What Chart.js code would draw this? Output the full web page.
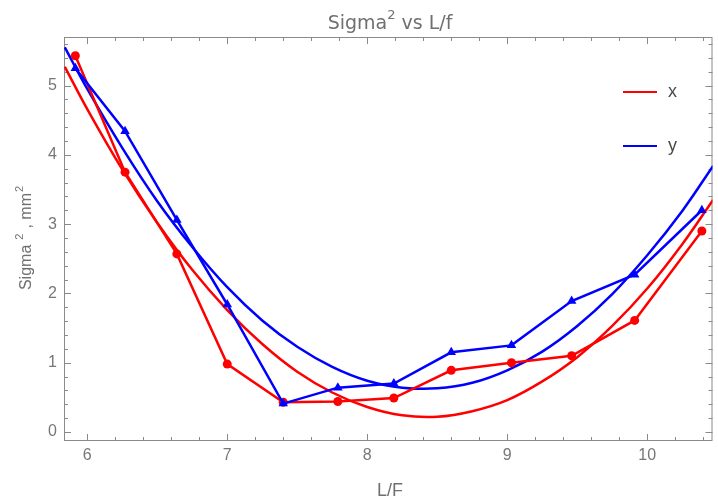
<!DOCTYPE html>
<html>
<head>
<meta charset="utf-8">
<script src="https://cdn.jsdelivr.net/npm/chart.js@4.4.0/dist/chart.umd.min.js"></script>
<style>
  html, body { margin: 0; padding: 0; background: #fff; }
  #wrap { position: relative; width: 718px; height: 500px; font-family: "Liberation Sans", Arial, sans-serif; }
  #chart { position: absolute; left: 0; top: 0; }
  .lbl { position: absolute; color: #707070; white-space: nowrap; text-align: center; }
  .lbl sup { vertical-align: baseline; position: relative; line-height: 0; }
  #title { left: 240px; width: 300px; top: 11px; font: 19px/22px "DejaVu Sans", sans-serif; }
  #title sup { font-size: 13px; top: -10px; }
  #xlabel { left: 340px; width: 100px; top: 480px; font-size: 18px; line-height: 20px; }
  #ylabel { left: -54px; width: 160px; top: 228px; font-size: 16px; line-height: 20px; transform: rotate(-90deg); }
  #ylabel sup { font-size: 11px; top: -8px; margin: 0 5px; }
  #ylabel sup.last { margin: 0 0 0 1px; }
  .key { position: absolute; left: 623px; width: 34px; height: 2.5px; }
  .keytxt { position: absolute; left: 668px; font-size: 18px; line-height: 20px; color: #4a4a4a; }
</style>
</head>
<body>
<div id="wrap">
  <canvas id="chart" width="718" height="500"></canvas>
  <div class="lbl" id="title">Sigma<sup>2</sup> vs L/f</div>
  <div class="lbl" id="xlabel">L/F</div>
  <div class="lbl" id="ylabel">Sigma<sup>2</sup>, mm<sup class="last">2</sup></div>
  <div class="key" style="top:90.75px; background:#ff0000;"></div>
  <div class="keytxt" style="top:81px;">x</div>
  <div class="key" style="top:144.75px; background:#0000ff;"></div>
  <div class="keytxt" style="top:135px;">y</div>
</div>
<script>
// measured points (L/F vs sigma^2)
const lf = [5.915, 6.27, 6.64, 7.0, 7.4, 7.79, 8.19, 8.6, 9.03, 9.46, 9.91, 10.39];
const sigmaX = [5.43, 3.75, 2.57, 0.98, 0.43, 0.44, 0.49, 0.89, 1.00, 1.10, 1.61, 2.90];
const sigmaY = [5.25, 4.34, 3.06, 1.84, 0.41, 0.64, 0.70, 1.15, 1.25, 1.89, 2.27, 3.20];

// fitted curves
const fitLf = [5.84, 6.0, 6.25, 6.5, 6.75, 7.0, 7.25, 7.5, 7.75, 8.0, 8.25, 8.5, 8.75, 9.0, 9.25, 9.5, 9.75, 10.0, 10.25, 10.47];
const fitX = [5.27, 4.66, 3.79, 3.02, 2.34, 1.76, 1.27, 0.87, 0.57, 0.36, 0.24, 0.22, 0.30, 0.46, 0.73, 1.08, 1.53, 2.07, 2.71, 3.35];
const fitY = [5.55, 4.95, 4.10, 3.33, 2.67, 2.09, 1.61, 1.23, 0.94, 0.74, 0.64, 0.63, 0.71, 0.89, 1.16, 1.53, 1.99, 2.55, 3.19, 3.84];

const xTicks = [6, 7, 8, 9, 10];
const yTicks = [0, 1, 2, 3, 4, 5];

const RED = '#ff0000';
const BLUE = '#0000ff';

const pts = (xs, ys) => xs.map((v, i) => ({ x: v, y: ys[i] }));

// Mathematica-like frame with inward ticks on all four sides
const frameTicks = {
  id: 'frameTicks',
  beforeDatasetsDraw(chart) {
    const { ctx, chartArea: a, scales: { x, y } } = chart;
    ctx.save();
    ctx.strokeStyle = '#8a8a8a';
    ctx.lineWidth = 1;
    ctx.beginPath();
    for (let i = 0; i <= 60; i++) {
      const v = i / 5;
      if (v < x.min || v > x.max) continue;
      const px = Math.round(x.getPixelForValue(v)) + 0.5;
      const len = i % 5 === 0 ? 7 : 4;
      ctx.moveTo(px, a.bottom); ctx.lineTo(px, a.bottom - len);
      ctx.moveTo(px, a.top); ctx.lineTo(px, a.top + len);
    }
    for (let i = -5; i <= 30; i++) {
      const v = i / 5;
      if (v < y.min || v > y.max) continue;
      const py = Math.round(y.getPixelForValue(v)) + 0.5;
      const len = i % 5 === 0 ? 7 : 4;
      ctx.moveTo(a.left, py); ctx.lineTo(a.left + len, py);
      ctx.moveTo(a.right, py); ctx.lineTo(a.right - len, py);
    }
    ctx.stroke();
    ctx.strokeRect(a.left + 0.5, a.top + 0.5, a.right - a.left - 1, a.bottom - a.top - 1);
    ctx.restore();
  },
};

new Chart(document.getElementById('chart'), {
  type: 'line',
  data: {
    datasets: [
      { label: 'y', data: pts(lf, sigmaY), borderColor: BLUE, backgroundColor: BLUE, borderWidth: 2.5,
        pointStyle: 'triangle', pointRadius: 5.5, pointBorderWidth: 0, tension: 0 },
      { label: 'x', data: pts(lf, sigmaX), borderColor: RED, backgroundColor: RED, borderWidth: 2.5,
        pointStyle: 'circle', pointRadius: 4.5, pointBorderWidth: 0, tension: 0 },
      { label: 'y fit', data: pts(fitLf, fitY), borderColor: BLUE, borderWidth: 2.5, pointRadius: 0, tension: 0.4 },
      { label: 'x fit', data: pts(fitLf, fitX), borderColor: RED, borderWidth: 2.5, pointRadius: 0, tension: 0.4 },
    ],
  },
  options: {
    responsive: false, animation: false, devicePixelRatio: 1,
    layout: { padding: { top: 37, right: 2, left: 0, bottom: 0 } },
    plugins: { legend: { display: false }, title: { display: false }, tooltip: { enabled: false } },
    scales: {
      x: {
        type: 'linear', min: 5.834, max: 10.466,
        afterBuildTicks: s => { s.ticks = xTicks.map(v => ({ value: v })); },
        afterFit: s => { s.height = 59; },
        ticks: { color: '#777', padding: 5, font: { family: 'Liberation Sans', size: 16 } },
        grid: { display: false, drawTicks: false },
        border: { display: false },
      },
      y: {
        type: 'linear', min: -0.13, max: 5.70,
        afterBuildTicks: s => { s.ticks = yTicks.map(v => ({ value: v })); },
        afterFit: s => { s.width = 64; },
        ticks: { color: '#777', padding: 7, font: { family: 'Liberation Sans', size: 16 } },
        grid: { display: false, drawTicks: false },
        border: { display: false },
      },
    },
  },
  plugins: [frameTicks],
});
</script>
</body>
</html>
